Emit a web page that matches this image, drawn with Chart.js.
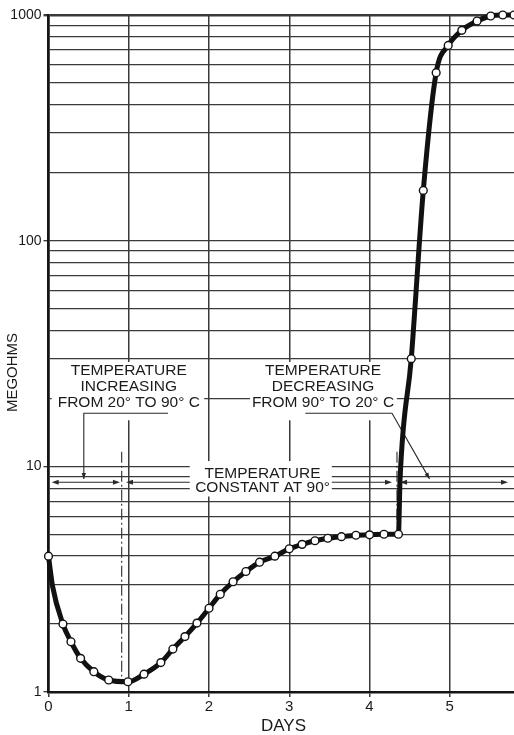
<!DOCTYPE html>
<html>
<head>
<meta charset="utf-8">
<script src="https://cdn.jsdelivr.net/npm/chart.js@4/dist/chart.umd.min.js"></script>
<style>
  html, body { margin: 0; padding: 0; background: #fff; }
  #wrap { width: 514px; height: 735px; }
</style>
</head>
<body>
<div id="wrap"><canvas id="c" width="514" height="735"></canvas></div>
<script>
// Insulation resistance of a winding through a heat / hold / cool cycle.

// Plotted readings (open circles)
const markerDays = [0, 0.18, 0.28, 0.40, 0.565, 0.75, 0.99, 1.19, 1.40, 1.55, 1.70, 1.85,
  2.0, 2.14, 2.30, 2.46, 2.63, 2.82, 3.0, 3.16, 3.32, 3.48, 3.65, 3.83, 4.0, 4.18, 4.36,
  4.52, 4.67, 4.83, 4.98, 5.15, 5.34, 5.51, 5.66, 5.80];
const markerMegohms = [4.0, 2.0, 1.67, 1.41, 1.23, 1.13, 1.11, 1.2, 1.35, 1.55, 1.76, 2.02,
  2.35, 2.71, 3.08, 3.42, 3.76, 4.0, 4.31, 4.51, 4.68, 4.80, 4.88, 4.95, 4.97, 5.0, 5.0,
  30, 167, 555, 733, 855, 940, 990, 1000, 1000];

// Additional points along the trace where no circle is drawn
const traceDays = [0.05, 4.38];
const traceMegohms = [2.95, 8.7];

// Axis ticks
const dayTicks = [0, 1, 2, 3, 4, 5];
const megohmLabels = ['1', '10', '100', '1000'];
const decadeStarts = [1, 10, 100];
const decadeSteps = [1, 2, 3, 4, 5, 6, 7, 8, 9];

const FONT = '"Liberation Sans", Arial, Helvetica, sans-serif';
const INK = '#1b1b1b';
const GRID = '#3a3a3a';

const markerPoints = markerDays.map((d, i) => ({ x: d, y: markerMegohms[i] }));
const tracePoints = markerPoints
  .concat(traceDays.map((d, i) => ({ x: d, y: traceMegohms[i] })))
  .sort((a, b) => a.x - b.x);

const gridValues = [];
decadeStarts.forEach(s => decadeSteps.forEach(k => gridValues.push(s * k)));
gridValues.push(1000);

// Callouts, in data units (days, megohms)
const callouts = {
  masks: [
    { x0: 0.04, x1: 1.94, y0: 29.0, y1: 16.0 },
    { x0: 2.51, x1: 4.34, y0: 29.0, y1: 16.0 }
  ],
  centerMask: { x0: 1.76, x1: 3.53, y0: 10.55, y1: 7.35 },
  texts: [
    { x: 1.0, y: 26.4, step: 16, lines: ['TEMPERATURE', 'INCREASING', 'FROM 20\u00B0 TO 90\u00B0 C'] },
    { x: 3.42, y: 26.4, step: 16, lines: ['TEMPERATURE', 'DECREASING', 'FROM 90\u00B0 TO 20\u00B0 C'] },
    { x: 2.667, y: 9.29, step: 14, lines: ['TEMPERATURE', 'CONSTANT AT 90\u00B0'] }
  ],
  dashDot: [
    { x: 0.912, y0: 11.6, y1: 1.17 },
    { x: 4.342, y0: 11.6, y1: 5.6 }
  ],
  spans: [
    { x0: 0.04, x1: 0.89, y: 8.5 },
    { x0: 0.966, x1: 4.28, y: 8.5 },
    { x0: 4.38, x1: 5.725, y: 8.5 }
  ],
  leaders: [
    [{ x: 1.49, y: 17.2 }, { x: 0.44, y: 17.2 }, { x: 0.44, y: 8.78 }],
    [{ x: 3.2, y: 17.2 }, { x: 4.28, y: 17.2 }, { x: 4.747, y: 8.8 }]
  ]
};

function head(ctx, fx, fy, tx, ty, len, half) {
  const a = Math.atan2(ty - fy, tx - fx);
  ctx.beginPath();
  ctx.moveTo(tx, ty);
  ctx.lineTo(tx - len * Math.cos(a) + half * Math.sin(a), ty - len * Math.sin(a) - half * Math.cos(a));
  ctx.lineTo(tx - len * Math.cos(a) - half * Math.sin(a), ty - len * Math.sin(a) + half * Math.cos(a));
  ctx.closePath();
  ctx.fill();
}

const calloutPlugin = {
  id: 'callouts',
  beforeDatasetsDraw(chart) {
    const { ctx } = chart;
    const xs = chart.scales.x, ys = chart.scales.y;
    const X = v => xs.getPixelForValue(v);
    const Y = v => ys.getPixelForValue(v);
    ctx.save();

    // white panels behind the upper notes
    ctx.fillStyle = '#fff';
    callouts.masks.forEach(m => {
      ctx.fillRect(X(m.x0), Y(m.y0), X(m.x1) - X(m.x0), Y(m.y1) - Y(m.y0));
    });

    ctx.strokeStyle = '#2a2a2a';
    ctx.fillStyle = '#2a2a2a';

    // dash-dot boundaries between temperature phases
    ctx.lineWidth = 1.1;
    ctx.setLineDash([11, 3, 2, 3]);
    callouts.dashDot.forEach(d => {
      ctx.beginPath();
      ctx.moveTo(X(d.x), Y(d.y0));
      ctx.lineTo(X(d.x), Y(d.y1));
      ctx.stroke();
    });
    ctx.setLineDash([]);

    // double-headed phase spans
    ctx.lineWidth = 1.2;
    callouts.spans.forEach(s => {
      const x0 = X(s.x0), x1 = X(s.x1), y = Y(s.y);
      ctx.beginPath();
      ctx.moveTo(x0 + 3, y);
      ctx.lineTo(x1 - 3, y);
      ctx.stroke();
      head(ctx, x1, y, x0, y, 7, 2.4);
      head(ctx, x0, y, x1, y, 7, 2.4);
    });

    // leader lines from the notes
    ctx.lineWidth = 1.1;
    callouts.leaders.forEach(pts => {
      ctx.beginPath();
      pts.forEach((p, i) => {
        if (i === 0) ctx.moveTo(X(p.x), Y(p.y));
        else ctx.lineTo(X(p.x), Y(p.y));
      });
      ctx.stroke();
      const a = pts[pts.length - 2], b = pts[pts.length - 1];
      head(ctx, X(a.x), Y(a.y), X(b.x), Y(b.y), 6, 2.2);
    });

    // white panel behind the centre note
    const c = callouts.centerMask;
    ctx.fillStyle = '#fff';
    ctx.fillRect(X(c.x0), Y(c.y0), X(c.x1) - X(c.x0), Y(c.y1) - Y(c.y0));

    // note text
    ctx.fillStyle = INK;
    ctx.font = '15.5px ' + FONT;
    ctx.textAlign = 'center';
    ctx.textBaseline = 'middle';
    callouts.texts.forEach(t => {
      const cx = X(t.x), cy = Y(t.y);
      t.lines.forEach((ln, i) => ctx.fillText(ln, cx, cy + i * t.step));
    });
    ctx.restore();
  },
  afterDraw(chart) {
    const { ctx } = chart;
    ctx.save();
    ctx.fillStyle = INK;
    ctx.textAlign = 'center';
    ctx.textBaseline = 'middle';
    ctx.font = '17px ' + FONT;
    ctx.fillText('DAYS', 283.5, 726);
    ctx.translate(12.5, 372.5);
    ctx.rotate(-Math.PI / 2);
    ctx.font = '15px ' + FONT;
    ctx.fillText('MEGOHMS', 0, 0);
    ctx.restore();
  }
};

new Chart(document.getElementById('c'), {
  type: 'line',
  data: {
    datasets: [
      {
        label: 'readings',
        data: markerPoints,
        showLine: false,
        pointRadius: 3.9,
        pointBackgroundColor: '#fff',
        pointBorderColor: '#111',
        pointBorderWidth: 1.4,
        clip: false,
        order: 0
      },
      {
        label: 'trace',
        data: tracePoints,
        borderColor: '#111',
        borderWidth: 5,
        pointRadius: 0,
        fill: false,
        cubicInterpolationMode: 'monotone',
        clip: false,
        order: 1
      }
    ]
  },
  options: {
    responsive: false,
    animation: false,
    devicePixelRatio: 1,
    layout: { autoPadding: false, padding: { top: 15, right: 0, bottom: 0, left: 0 } },
    plugins: { legend: { display: false }, tooltip: { enabled: false }, title: { display: false } },
    scales: {
      x: {
        type: 'linear',
        min: 0,
        max: 5.8,
        afterBuildTicks: s => { s.ticks = dayTicks.map(v => ({ value: v })); },
        afterFit: s => { s.height = 43; s.paddingLeft = 0; s.paddingRight = 0; },
        grid: { color: GRID, lineWidth: 1.5, tickLength: 5, tickColor: GRID },
        border: { color: '#151515', width: 2.6 },
        ticks: { font: { family: FONT, size: 15 }, color: INK, padding: 1, maxRotation: 0, autoSkip: false }
      },
      y: {
        type: 'logarithmic',
        min: 1,
        max: 1000,
        afterBuildTicks: s => { s.ticks = gridValues.map(v => ({ value: v })); },
        afterFit: s => { s.width = 48.5; s.paddingTop = 0; s.paddingBottom = 0; },
        grid: {
          color: GRID,
          lineWidth: c => (c.tick && c.tick.value === 1000 ? 2.4 : 1.35),
          tickLength: 5,
          tickColor: c => (c.tick && megohmLabels.includes(String(c.tick.value)) ? GRID : 'rgba(0,0,0,0)')
        },
        border: { color: '#151515', width: 2.6 },
        ticks: {
          font: { family: FONT, size: 14 },
          color: INK,
          padding: 2,
          autoSkip: false,
          callback: v => (megohmLabels.includes(String(v)) ? String(v) : '')
        }
      }
    }
  },
  plugins: [calloutPlugin]
});
</script>
</body>
</html>
